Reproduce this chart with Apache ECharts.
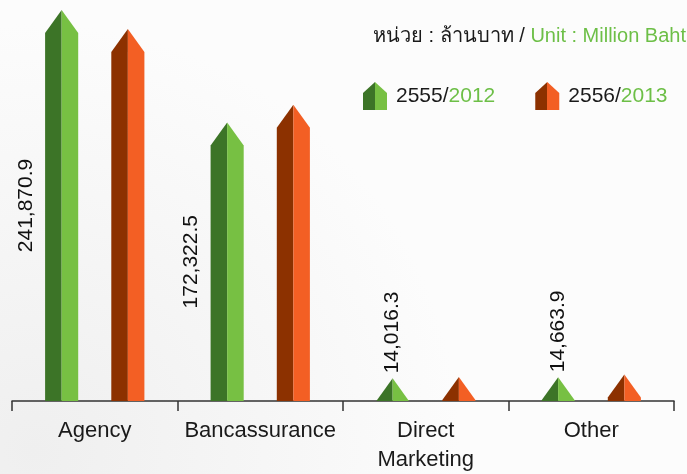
<!DOCTYPE html>
<html>
<head>
<meta charset="utf-8">
<script src="https://cdn.jsdelivr.net/npm/echarts@6/dist/echarts.min.js"></script>
<style>
html,body{margin:0;padding:0;background:#fafafa;}
#main{width:687px;height:474px;}
</style>
</head>
<body>
<div id="main"></div>
<script>
const categories = ['Agency', 'Bancassurance', 'Direct\nMarketing', 'Other'];
const seriesNames = ['2555/2012', '2556/2013'];
const values2012 = [241870.9, 172322.5, 14016.3, 14663.9];
const values2013 = [230180, 183300, 14900, 16350];
const titleThai = 'หน่วย : ล้านบาท / ';
const titleEng = 'Unit : Million Baht';

const FONT = '"Liberation Sans", Arial, sans-serif';
const palette = [
  { dark: '#3C7427', light: '#77C043' },
  { dark: '#8C3100', light: '#F35F24' }
];

function splitGradient(p) {
  return new echarts.graphic.LinearGradient(0, 0, 1, 0, [
    { offset: 0, color: p.dark }, { offset: 0.5, color: p.dark },
    { offset: 0.5, color: p.light }, { offset: 1, color: p.light }
  ]);
}

function fmt(v) {
  const parts = v.toFixed(1).split('.');
  parts[0] = parts[0].replace(/\B(?=(\d{3})+(?!\d))/g, ',');
  return parts.join('.');
}

function makeRender(sIdx) {
  return function (params, api) {
    const ci = api.value(0);
    const v = api.value(1);
    const top = api.coord([ci, v]);
    const base = api.coord([ci, 0]);
    const bw = api.size([1, 0])[0];
    const cx = top[0] + (sIdx === 0 ? -1 : 1) * bw * 0.2;
    const hw = bw * 0.1;
    const roof = 23;
    const H = base[1] - top[1];
    let left, right;
    if (H >= roof) {
      left = [[cx - hw, base[1]], [cx - hw, top[1] + roof], [cx, top[1]], [cx, base[1]]];
      right = [[cx, base[1]], [cx, top[1]], [cx + hw, top[1] + roof], [cx + hw, base[1]]];
    } else {
      const w = hw * H / roof;
      left = [[cx - w, base[1]], [cx, top[1]], [cx, base[1]]];
      right = [[cx, base[1]], [cx, top[1]], [cx + w, base[1]]];
    }
    const children = [
      { type: 'polygon', shape: { points: left }, style: { fill: palette[sIdx].dark } },
      { type: 'polygon', shape: { points: right }, style: { fill: palette[sIdx].light } }
    ];
    if (sIdx === 0) {
      if (H > 100) {
        children.push({
          type: 'text', x: cx - hw - 19, y: (top[1] + base[1]) / 2, rotation: Math.PI / 2,
          style: { text: fmt(v), fill: '#111', font: '21px ' + FONT, align: 'center', verticalAlign: 'middle' }
        });
      } else {
        children.push({
          type: 'text', x: cx, y: top[1] - 5, rotation: Math.PI / 2,
          style: { text: fmt(v), fill: '#111', font: '21px ' + FONT, align: 'left', verticalAlign: 'middle' }
        });
      }
    }
    return { type: 'group', children: children };
  };
}

const chart = echarts.init(document.getElementById('main'), null, { renderer: 'canvas' });
chart.setOption({
  backgroundColor: new echarts.graphic.RadialGradient(0.05, 0.95, 0.9, [
    { offset: 0, color: '#efefef' }, { offset: 1, color: '#fcfcfc' }
  ]),
  animation: false,
  title: {
    text: '{a|' + titleThai + '}{b|' + titleEng + '}',
    right: 1, top: 26, padding: 0,
    textStyle: {
      fontWeight: 'normal',
      rich: {
        a: { color: '#1a1a1a', fontSize: 20, fontFamily: FONT, fontWeight: 'normal' },
        b: { color: '#6DBF47', fontSize: 20, fontFamily: FONT, fontWeight: 'normal' }
      }
    }
  },
  legend: {
    left: 363, top: 82, padding: 0,
    itemWidth: 24, itemHeight: 28, itemGap: 40,
    icon: 'path://M12,0 L24,11 L24,28 L0,28 L0,11 Z',
    data: seriesNames.map((n, i) => ({ name: n, itemStyle: { color: splitGradient(palette[i]) } })),
    formatter: function (name) {
      const p = name.split('/');
      return '{a|' + p[0] + '/}{b|' + p[1] + '}';
    },
    textStyle: {
      rich: {
        a: { color: '#1a1a1a', fontSize: 21, fontFamily: FONT, padding: [0, 0, 0, 4] },
        b: { color: '#6DBF47', fontSize: 21, fontFamily: FONT }
      }
    }
  },
  grid: { left: 12, right: 13, top: 10, bottom: 71 },
  xAxis: {
    type: 'category',
    data: categories,
    boundaryGap: true,
    axisLine: { lineStyle: { color: '#333', width: 1.5 } },
    axisTick: { show: true, length: 10, lineStyle: { color: '#333', width: 1.5 } },
    axisLabel: { color: '#1a1a1a', fontSize: 22, fontFamily: FONT, margin: 15, lineHeight: 29, interval: 0 }
  },
  yAxis: {
    type: 'value', min: 0, max: 'dataMax', show: false,
    splitLine: { show: false }
  },
  series: [values2012, values2013].map((vals, i) => ({
    type: 'custom',
    name: seriesNames[i],
    itemStyle: { color: palette[i].light },
    encode: { x: 0, y: 1 },
    data: vals.map((v, k) => [k, v]),
    renderItem: makeRender(i)
  }))
});
</script>
</body>
</html>
